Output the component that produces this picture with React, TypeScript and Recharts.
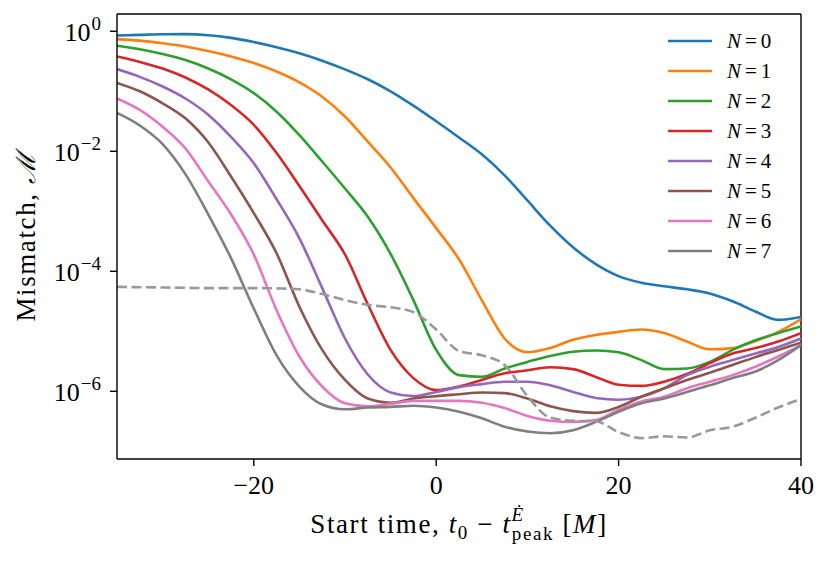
import { LineChart, Line, XAxis, YAxis, Legend, ReferenceLine } from 'recharts';

const startTime = [
  -35, -32.5, -30, -27.5, -25, -22.5, -20, -17.5, -15, -12.5, -10, -7.5, -5, -2.5, 0, 2.5,
  5, 7.5, 10, 12.5, 15, 17.5, 20, 22.5, 25, 27.5, 30, 32.5, 35, 37.5, 40,
];

// log10 of the mismatch, one entry per start time
const logN0 = [-0.07, -0.06, -0.05, -0.048, -0.065, -0.11, -0.18, -0.265, -0.365, -0.49, -0.635, -0.8, -1.0, -1.24, -1.5, -1.77, -2.05, -2.4, -2.82, -3.24, -3.6, -3.88, -4.08, -4.19, -4.25, -4.3, -4.37, -4.5, -4.67, -4.81, -4.76];
const logN1 = [-0.13, -0.155, -0.2, -0.255, -0.33, -0.42, -0.53, -0.67, -0.85, -1.09, -1.42, -1.84, -2.27, -2.78, -3.28, -3.8, -4.48, -5.12, -5.35, -5.28, -5.14, -5.06, -5.01, -4.97, -5.03, -5.17, -5.3, -5.28, -5.16, -5.01, -4.8];
const logN2 = [-0.24, -0.3, -0.38, -0.48, -0.62, -0.8, -1.03, -1.34, -1.73, -2.17, -2.62, -3.09, -3.71, -4.48, -5.31, -5.73, -5.76, -5.62, -5.51, -5.41, -5.34, -5.32, -5.35, -5.48, -5.63, -5.62, -5.51, -5.31, -5.15, -5.03, -4.92];
const logN3 = [-0.42, -0.51, -0.62, -0.77, -0.97, -1.23, -1.56, -2.03, -2.58, -3.15, -3.72, -4.55, -5.31, -5.78, -5.98, -5.92, -5.81, -5.7, -5.65, -5.6, -5.63, -5.76, -5.89, -5.91, -5.84, -5.71, -5.53, -5.37, -5.28, -5.17, -5.03];
const logN4 = [-0.63, -0.76, -0.92, -1.12, -1.39, -1.76, -2.2, -2.8, -3.45, -4.28, -5.12, -5.72, -6.02, -6.08, -6.01, -5.93, -5.88, -5.84, -5.84, -5.9, -6.01, -6.11, -6.14, -6.09, -5.95, -5.73, -5.59, -5.48, -5.37, -5.26, -5.12];
const logN5 = [-0.86, -1.0, -1.2, -1.45, -1.85, -2.42, -3.03, -3.7, -4.59, -5.31, -5.81, -6.12, -6.19, -6.12, -6.08, -6.05, -6.02, -6.03, -6.12, -6.25, -6.33, -6.36, -6.26, -6.09, -5.95, -5.81, -5.69, -5.56, -5.43, -5.31, -5.19];
const logN6 = [-1.12, -1.31, -1.59, -1.95, -2.5, -3.05, -3.72, -4.65, -5.42, -5.92, -6.2, -6.25, -6.21, -6.16, -6.16, -6.16, -6.19, -6.28, -6.41, -6.49, -6.51, -6.48, -6.31, -6.17, -6.09, -5.95, -5.84, -5.73, -5.59, -5.42, -5.23];
const logN7 = [-1.36, -1.57, -1.88, -2.38, -3.05, -3.78, -4.62, -5.4, -5.92, -6.22, -6.3, -6.27, -6.26, -6.24, -6.27, -6.34, -6.45, -6.59, -6.67, -6.7, -6.65, -6.51, -6.34, -6.2, -6.12, -6.01, -5.9, -5.78, -5.67, -5.48, -5.23];
// grey dashed reference curve
const logRef = [-4.26, -4.265, -4.27, -4.275, -4.28, -4.28, -4.28, -4.285, -4.3, -4.38, -4.48, -4.56, -4.6, -4.68, -4.97, -5.33, -5.4, -5.56, -6.08, -6.44, -6.49, -6.5, -6.68, -6.78, -6.75, -6.77, -6.65, -6.59, -6.44, -6.27, -6.13];

const xTicks = [-20, 0, 20, 40];
const yTickExponents = [0, -2, -4, -6];
const yLogRange = [-7.128, 0.288];

const series = [
  { key: 'n0', name: 'N = 0', color: '#1f77b4', values: logN0 },
  { key: 'n1', name: 'N = 1', color: '#ff7f0e', values: logN1 },
  { key: 'n2', name: 'N = 2', color: '#2ca02c', values: logN2 },
  { key: 'n3', name: 'N = 3', color: '#d62728', values: logN3 },
  { key: 'n4', name: 'N = 4', color: '#9467bd', values: logN4 },
  { key: 'n5', name: 'N = 5', color: '#8c564b', values: logN5 },
  { key: 'n6', name: 'N = 6', color: '#e377c2', values: logN6 },
  { key: 'n7', name: 'N = 7', color: '#7f7f7f', values: logN7 },
];

const rows = startTime.map((t, i) => {
  const row: Record<string, number> = { t, ref: 10 ** logRef[i] };
  series.forEach((s) => {
    row[s.key] = 10 ** s.values[i];
  });
  return row;
});

const FONT = '"Liberation Serif", serif';

function YTick({ x, y, payload }: any) {
  const exp = Math.round(Math.log10(payload.value));
  const sup = exp < 0 ? `\u2212${-exp}` : `${exp}`;
  return (
    <text x={x - 7} y={y + 10} textAnchor="end" fontFamily={FONT} fontSize={26} fill="#000">
      <tspan>10</tspan>
      <tspan fontSize={19} dx={1} dy={-11}>{sup}</tspan>
    </text>
  );
}

function XTick({ x, y, payload }: any) {
  const v = payload.value;
  const label = v < 0 ? `\u2212${-v}` : `${v}`;
  return (
    <text x={x} y={y + 26} textAnchor="middle" fontFamily={FONT} fontSize={26} fill="#000">
      {label}
    </text>
  );
}

function XLabel({ viewBox }: any) {
  const cx = viewBox.x + viewBox.width / 2;
  return (
    <text x={cx} y={533} textAnchor="middle" fontFamily={FONT} fontSize={27} letterSpacing={1.6} fill="#000">
      <tspan>{'Start time, '}</tspan>
      <tspan fontStyle="italic">t</tspan>
      <tspan fontSize={19} dy={6}>0</tspan>
      <tspan dy={-6}>{' \u2212 '}</tspan>
      <tspan fontStyle="italic">t</tspan>
      <tspan fontSize={19} fontStyle="italic" dy={-12}>{'\u0116'}</tspan>
      <tspan fontSize={19} dx={-13} dy={19}>peak</tspan>
      <tspan dy={-7}>{' ['}</tspan>
      <tspan fontStyle="italic">M</tspan>
      <tspan>]</tspan>
    </text>
  );
}

function YLabel({ viewBox }: any) {
  const cy = viewBox.y + viewBox.height / 2;
  const cx = 35;
  return (
    <text
      x={cx}
      y={cy}
      transform={`rotate(-90, ${cx}, ${cy})`}
      textAnchor="middle"
      fontFamily={FONT}
      fontSize={27}
      letterSpacing={1.6}
      fill="#000"
    >
      <tspan>{'Mismatch, '}</tspan>
      <tspan fontStyle="italic">{'\u2133'}</tspan>
    </text>
  );
}

function LegendBox({ payload }: any) {
  const items = (payload || []).filter((p: any) => p.dataKey !== 'ref');
  return (
    <svg width={160} height={250}>
      {items.map((p: any, i: number) => {
        const cy = 15 + i * 30;
        const digit = String(p.value).split('= ')[1];
        return (
          <g key={p.dataKey}>
            <line x1={8} x2={52} y1={cy} y2={cy} stroke={p.color} strokeWidth={2.6} />
            <text x={67} y={cy + 7} fontFamily={FONT} fontSize={21} fill="#000">
              <tspan fontStyle="italic">N</tspan>
              <tspan dx={4}>=</tspan>
              <tspan dx={4}>{digit}</tspan>
            </text>
          </g>
        );
      })}
    </svg>
  );
}

export default function App() {
  const yMin = 10 ** yLogRange[0];
  const yMax = 10 ** yLogRange[1];
  return (
    <div style={{ position: 'absolute', left: 0, top: 0, background: '#fff' }}>
      <LineChart width={830} height={563} data={rows} margin={{ top: 14, right: 29, bottom: 0, left: 0 }}>
        <XAxis
          dataKey="t"
          type="number"
          domain={[-35, 40]}
          ticks={xTicks}
          interval={0}
          allowDataOverflow
          height={104}
          tickSize={7}
          stroke="#000"
          strokeWidth={1.4}
          tick={<XTick />}
          label={<XLabel />}
        />
        <YAxis
          type="number"
          scale="log"
          domain={[yMin, yMax]}
          ticks={yTickExponents.map((e) => 10 ** e)}
          interval={0}
          allowDataOverflow
          width={117}
          tickSize={7}
          stroke="#000"
          strokeWidth={1.4}
          tick={<YTick />}
          label={<YLabel />}
        />
        <ReferenceLine y={yMax} stroke="#000" strokeWidth={1.4} />
        <ReferenceLine x={40} stroke="#000" strokeWidth={1.4} />
        {series.map((s) => (
          <Line
            key={s.key}
            dataKey={s.key}
            name={s.name}
            type="monotone"
            stroke={s.color}
            strokeWidth={2.6}
            dot={false}
            isAnimationActive={false}
          />
        ))}
        <Line
          dataKey="ref"
          type="monotone"
          stroke="#999999"
          strokeWidth={2.6}
          strokeDasharray="10 4.5"
          dot={false}
          legendType="none"
          isAnimationActive={false}
        />
        <Legend
          layout="vertical"
          align="center"
          verticalAlign="middle"
          wrapperStyle={{ left: 660, top: 26, width: 160 }}
          content={<LegendBox />}
        />
      </LineChart>
    </div>
  );
}
